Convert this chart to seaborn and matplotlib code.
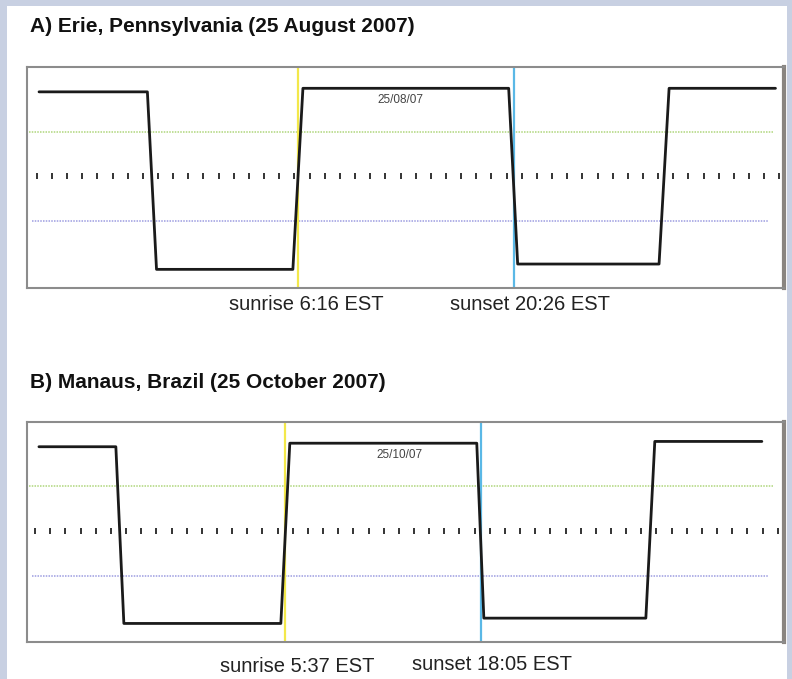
import numpy as np
import pandas as pd
import seaborn as sns
import matplotlib.pyplot as plt
from matplotlib.patches import Rectangle

# Panel A: Erie, Pennsylvania, hours from midnight of 25/08/07, light level (1 = light, 0 = dark)
erie_hours = [-10.75, -3.63, -3.03, 5.93, 6.59, 20.11, 20.70, 29.99, 30.65, 37.64]
erie_level = [1.00, 1.00, 0.00, 0.00, 1.02, 1.02, 0.03, 0.03, 1.02, 1.02]
erie_sunrise = 6 + 16 / 60
erie_sunset = 20 + 26 / 60

# Panel B: Manaus, Brazil, hours from midnight of 25/10/07
manaus_hours = [-10.06, -5.16, -4.65, 5.35, 5.92, 17.83, 18.28, 28.60, 29.17, 35.99]
manaus_level = [1.00, 1.00, 0.00, 0.00, 1.02, 1.02, 0.03, 0.03, 1.03, 1.03]
manaus_sunrise = 5 + 37 / 60
manaus_sunset = 18 + 5 / 60

panels = [
    dict(title="A) Erie, Pennsylvania (25 August 2007)", date="25/08/07", date_x=13.0,
         hours=erie_hours, level=erie_level, sunrise=erie_sunrise, sunset=erie_sunset,
         rise_lbl="sunrise 6:16 EST", set_lbl="sunset 20:26 EST",
         xlim=(-11.54, 38.2), ticks=(-10.9, 37.9),
         box=(27, 67, 784, 288), title_y=27, lbl_y=(305, 304, 306, 530)),
    dict(title="B) Manaus, Brazil (25 October 2007)", date="25/10/07", date_x=12.9,
         hours=manaus_hours, level=manaus_level, sunrise=manaus_sunrise, sunset=manaus_sunset,
         rise_lbl="sunrise 5:37 EST", set_lbl="sunset 18:05 EST",
         xlim=(-10.82, 37.4), ticks=(-10.3, 37.0),
         box=(27, 422, 784, 642), title_y=383, lbl_y=(666, 664, 297, 492)),
]

W, H = 792, 679
sns.set_theme(style="white")
plt.rcParams['font.family'] = ['Liberation Sans', 'DejaVu Sans']

fig = plt.figure(figsize=(W / 100, H / 100), dpi=100, facecolor="#c8d0e2")
bg = Rectangle((7 / W, 0), 780 / W, 1 - 6 / H, transform=fig.transFigure,
               facecolor="white", edgecolor="none", zorder=-10)
fig.add_artist(bg)

for p in panels:
    x0, y0, x1, y1 = p["box"]
    ax = fig.add_axes([x0 / W, 1 - y1 / H, (x1 - x0) / W, (y1 - y0) / H], zorder=2)
    ax.set_facecolor("white")
    ax.set_xlim(*p["xlim"])
    ax.set_ylim(-0.105, 1.14)

    # reference lines
    ax.axhline(0.775, xmin=0.003, xmax=0.985, color="#afd67c", lw=1.1, ls=(0, (1, 0.8)))
    ax.axhline(0.27, xmin=0.007, xmax=0.98, color="#9d9de0", lw=1.1, ls=(0, (1, 0.8)))
    tx = np.linspace(p["ticks"][0], p["ticks"][1], 50)
    ax.scatter(tx, np.full_like(tx, 0.525), marker="|", s=22, color="#333333", linewidths=1.4)

    ax.axvline(p["sunrise"], color="#f3e84a", lw=1.6)
    ax.axvline(p["sunset"], color="#5ab8e6", lw=1.6)

    df = pd.DataFrame({"hour": p["hours"], "level": p["level"]})
    sns.lineplot(data=df, x="hour", y="level", color="#1a1a1a", lw=2.0, sort=False,
                 ax=ax, zorder=5)

    ax.text(p["date_x"], 0.955, p["date"], ha="center", va="center",
            fontsize=8.5, color="#444444", family=["Liberation Sans Narrow", "Liberation Sans"])
    ax.set_xticks([])
    ax.set_yticks([])
    ax.set_xlabel("")
    ax.set_ylabel("")
    for s in ["top", "left", "bottom"]:
        ax.spines[s].set_color("#8c8c8c")
        ax.spines[s].set_linewidth(1.5)
    ax.spines["right"].set_color("#8a8580")
    ax.spines["right"].set_linewidth(3)

    fig.text(30 / W, 1 - p["title_y"] / H, p["title"], fontsize=15, fontweight="bold",
             va="center", ha="left", color="#111111")
    ly_r, ly_s, cx_r, cx_s = p["lbl_y"]
    fig.text(cx_r / W, 1 - ly_r / H, p["rise_lbl"], fontsize=14.5, va="center", ha="center",
             color="#222222")
    fig.text(cx_s / W, 1 - ly_s / H, p["set_lbl"], fontsize=14.5, va="center", ha="center",
             color="#222222")

fig.savefig("out.png", dpi=100, facecolor=fig.get_facecolor())
